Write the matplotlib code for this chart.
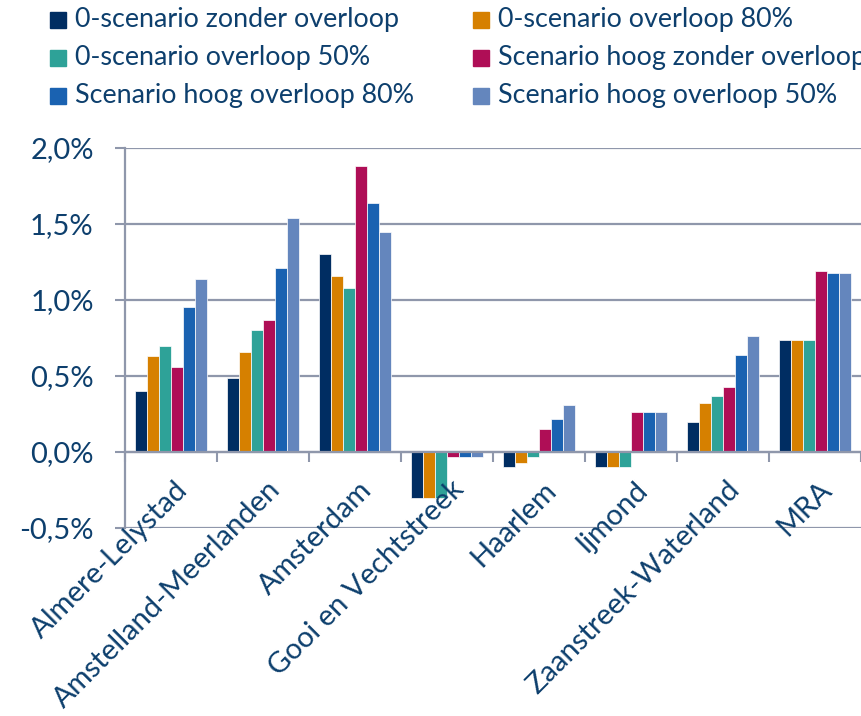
import matplotlib
matplotlib.use("Agg")
import matplotlib.pyplot as plt
import numpy as np
from matplotlib.patches import Rectangle
from matplotlib.transforms import blended_transform_factory

categories = ["Almere-Lelystad", "Amstelland-Meerlanden", "Amsterdam",
              "Gooi en Vechtstreek", "Haarlem", "Ijmond",
              "Zaanstreek-Waterland", "MRA"]
series_names = ["0-scenario zonder overloop", "0-scenario overloop 80%",
                "0-scenario overloop 50%", "Scenario hoog zonder overloop",
                "Scenario hoog overloop 80%", "Scenario hoog overloop 50%"]
s0_zonder = [0.40, 0.49, 1.30, -0.30, -0.10, -0.10, 0.20, 0.74]
s0_80 = [0.63, 0.66, 1.16, -0.30, -0.07, -0.10, 0.32, 0.735]
s0_50 = [0.70, 0.80, 1.08, -0.30, -0.03, -0.10, 0.37, 0.735]
hoog_zonder = [0.56, 0.87, 1.88, -0.03, 0.15, 0.265, 0.43, 1.19]
hoog_80 = [0.955, 1.21, 1.64, -0.03, 0.215, 0.265, 0.64, 1.175]
hoog_50 = [1.14, 1.54, 1.45, -0.03, 0.31, 0.265, 0.76, 1.175]
series_values = [s0_zonder, s0_80, s0_50, hoog_zonder, hoog_80, hoog_50]
y_ticks = [-0.5, 0.0, 0.5, 1.0, 1.5, 2.0]
y_tick_labels = ["-0,5%", "0,0%", "0,5%", "1,0%", "1,5%", "2,0%"]

colors = ["#002D62", "#D68000", "#2EA298", "#AF0E56", "#1A62B1", "#6486BD"]
text_color = "#0D3F6D"
grid_color = "#8F97AB"
font = "Lato"

W, H = 861, 716
fig = plt.figure(figsize=(W / 100, H / 100), dpi=100)
ax = fig.add_axes([125 / W, 1 - 528 / H, 736 / W, 380 / H])

x = np.arange(len(categories))
n = len(series_values)
bw = 0.132
for i, vals in enumerate(series_values):
    ax.bar(x + (i - (n - 1) / 2) * bw, vals, width=bw, color=colors[i],
           edgecolor="white", linewidth=0.5, zorder=3)

ax.set_xlim(-0.5, len(categories) - 0.5)
ax.set_ylim(-0.5, 2.0)
ax.set_yticks(y_ticks)
ax.set_yticklabels(y_tick_labels, fontsize=21, color=text_color, family=font)
ax.tick_params(axis="y", length=7.5, width=1.5, color=grid_color, pad=15)
for yv in y_ticks:
    ax.axhline(yv, color=grid_color, lw=1.6, zorder=1)

ax.set_xticks(np.arange(-0.5, len(categories), 1.0))
ax.set_xticklabels([])
ax.tick_params(axis="x", length=7.5, width=1.5, color=grid_color, direction="out")
ax.spines["bottom"].set_position(("data", 0))
ax.spines["bottom"].set_color(grid_color)
ax.spines["bottom"].set_linewidth(1.6)
ax.spines["bottom"].set_zorder(4)
ax.spines["left"].set_color(grid_color)
ax.spines["left"].set_linewidth(1.6)
for s in ["top", "right"]:
    ax.spines[s].set_visible(False)

trans = blended_transform_factory(ax.transData, ax.transData)
for xi, cat in zip(x, categories):
    ax.text(xi + 0.04, -0.16, cat, rotation=45, rotation_mode="anchor",
            ha="right", va="top", fontsize=21, color=text_color,
            family=font, transform=trans, clip_on=False)

# legend (row-major, 2 columns)
col_x = [50, 473]
row_y = [20, 58, 96]
sq = 16
for i, name in enumerate(series_names):
    r, c = divmod(i, 2)
    cx, cy = col_x[c], row_y[r]
    fig.patches.append(Rectangle((cx / W, 1 - (cy + sq / 2) / H), sq / W, sq / H,
                                 transform=fig.transFigure, color=colors[i]))
    fig.text((cx + sq + 9) / W, 1 - cy / H, name, ha="left", va="center",
             fontsize=19.4, color=text_color, family=font)

fig.savefig("out.png", dpi=100)
